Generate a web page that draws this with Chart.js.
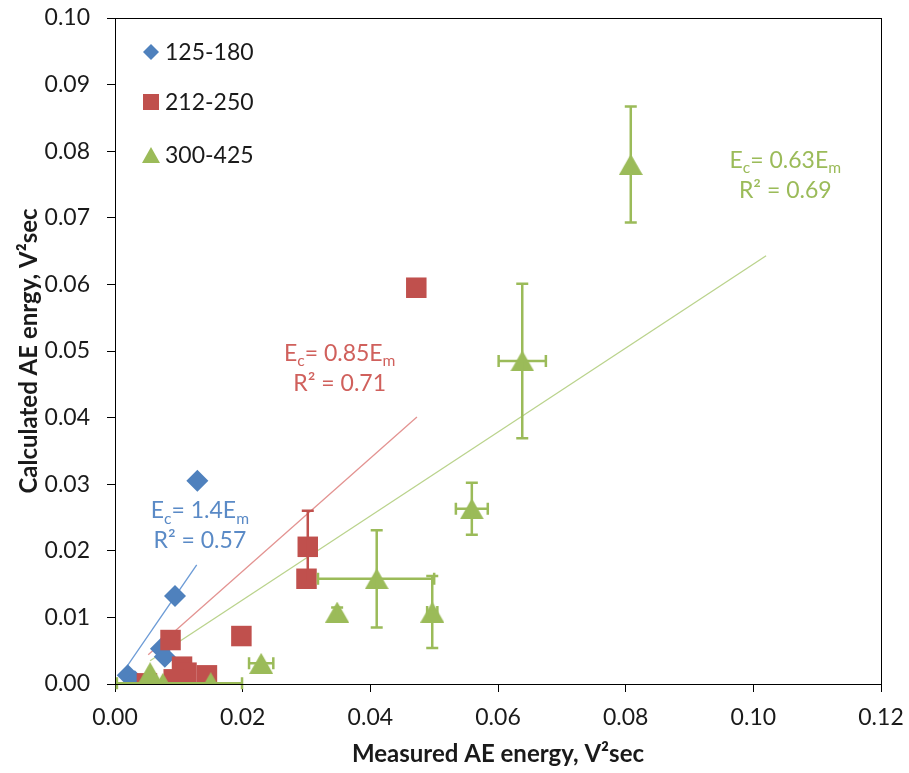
<!DOCTYPE html>
<html><head><meta charset="utf-8">
<script src="https://cdn.jsdelivr.net/npm/chart.js@4.4.0/dist/chart.umd.min.js"></script>
<style>html,body{margin:0;padding:0;background:#fff}#wrap{width:909px;height:773px;position:relative}</style>
</head><body><div id="wrap"><canvas id="c" width="909" height="773"></canvas></div>
<script>
// ---------- DATA ----------
const seriesNames = ['125-180', '212-250', '300-425'];
const xTickLabels = ['0.00', '0.02', '0.04', '0.06', '0.08', '0.10', '0.12'];
const yTickLabels = ['0.00', '0.01', '0.02', '0.03', '0.04', '0.05', '0.06', '0.07', '0.08', '0.09', '0.10'];
const xTitle = 'Measured AE energy, V\u00B2sec';
const yTitle = 'Calculated AE enrgy, V\u00B2sec';

// 125-180 (blue diamonds)
const blueX = [0.0129, 0.0094, 0.0072, 0.0078, 0.0020, 0.0031];
const blueY = [0.0305, 0.0132, 0.0053, 0.0041, 0.0013, 0.0004];
// 212-250 (red squares)
const redX = [0.0472, 0.0302, 0.0300, 0.0198, 0.0087, 0.0105, 0.0112, 0.0144, 0.0092, 0.0050];
const redY = [0.0595, 0.0206, 0.0158, 0.0072, 0.0066, 0.0026, 0.0017, 0.0013, 0.0007, 0.0001];
const redErrY = [0, 0.0054, 0, 0, 0, 0, 0, 0, 0, 0];
// 300-425 (green triangles)
const greenX = [0.0808, 0.0638, 0.0559, 0.0410, 0.0497, 0.0348, 0.0229, 0.0150, 0.0075, 0.0055];
const greenY = [0.0780, 0.0485, 0.0263, 0.0158, 0.0108, 0.0108, 0.0031, 0.0002, 0.0001, 0.0017];
const greenErrY = [0.0087, 0.0116, 0.0039, 0.0073, 0.0054, 0.0007, 0, 0, 0, 0];
const greenErrXMinus = [0, 0.0037, 0.0025, 0.0092, 0.0008, 0, 0.0019, 0, 0.0072, 0];
const greenErrXPlus = [0, 0.0037, 0.0025, 0.0090, 0.0008, 0, 0.0019, 0, 0.0124, 0];

// trend lines (end points)
const blueTrendX = [0.0012, 0.0128];
const blueTrendY = [0.0017, 0.0179];
const redTrendX = [0.0052, 0.0473];
const redTrendY = [0.0044, 0.0401];
const greenTrendX = [0.0055, 0.1020];
const greenTrendY = [0.0035, 0.0643];

// trend labels
const blueEq = [['E', 0], ['c', 1], ['= 1.4E', 0], ['m', 1]];
const blueR2 = 'R\u00B2 = 0.57';
const redEq = [['E', 0], ['c', 1], ['= 0.85E', 0], ['m', 1]];
const redR2 = 'R\u00B2 = 0.71';
const greenEq = [['E', 0], ['c', 1], ['= 0.63E', 0], ['m', 1]];
const greenR2 = 'R\u00B2 = 0.69';

// ---------- STYLE ----------
const FONT = 'Lato';
const FS = 23;
const C_BLUE = '#4F81BD', C_RED = '#C0504D', C_GREEN = '#9BBB59';
const TXT = '#1a1a1a';

const pts = (xs, ys) => xs.map((x, i) => ({ x: x, y: ys[i] }));

// triangle marker centred on its bounding box (like the original)
function triImage(w, h, color) {
  const cv = document.createElement('canvas');
  cv.width = w; cv.height = h;
  const c = cv.getContext('2d');
  c.fillStyle = color;
  c.beginPath();
  c.moveTo(w / 2, 0); c.lineTo(w, h); c.lineTo(0, h); c.closePath();
  c.fill();
  return cv;
}
const triMarker = triImage(24, 21, C_GREEN);

const errorBars = [
  { ds: 4, color: C_RED, errY: redErrY },
  { ds: 5, color: C_GREEN, errY: greenErrY, errXm: greenErrXMinus, errXp: greenErrXPlus }
];

const errPlugin = {
  id: 'errbars',
  afterDatasetsDraw(chart) {
    const ctx = chart.ctx, xs = chart.scales.x, ys = chart.scales.y;
    ctx.save();
    ctx.lineWidth = 2.5;
    const cap = 6;
    errorBars.forEach(eb => {
      const data = chart.data.datasets[eb.ds].data;
      ctx.strokeStyle = eb.color;
      data.forEach((p, i) => {
        const px = xs.getPixelForValue(p.x), py = ys.getPixelForValue(p.y);
        const e = eb.errY ? eb.errY[i] : 0;
        if (e > 0) {
          const y1 = ys.getPixelForValue(p.y + e), y2 = ys.getPixelForValue(Math.max(0, p.y - e));
          ctx.beginPath();
          ctx.moveTo(px, y1); ctx.lineTo(px, y2);
          ctx.moveTo(px - cap, y1); ctx.lineTo(px + cap, y1);
          if (p.y - e > 0) { ctx.moveTo(px - cap, y2); ctx.lineTo(px + cap, y2); }
          ctx.stroke();
        }
        const m = eb.errXm ? eb.errXm[i] : 0, q = eb.errXp ? eb.errXp[i] : 0;
        if (m > 0 || q > 0) {
          const x1 = xs.getPixelForValue(Math.max(0, p.x - m)), x2 = xs.getPixelForValue(p.x + q);
          ctx.beginPath();
          ctx.moveTo(x1, py); ctx.lineTo(x2, py);
          if (p.x - m > 0) { ctx.moveTo(x1, py - cap); ctx.lineTo(x1, py + cap); }
          ctx.moveTo(x2, py - cap); ctx.lineTo(x2, py + cap);
          ctx.stroke();
        }
      });
    });
    ctx.restore();
  }
};

function drawRich(ctx, parts, cx, cy, color, size) {
  const subSize = size * 0.68;
  const widths = parts.map(p => { ctx.font = (p[1] ? subSize : size) + 'px ' + FONT; return ctx.measureText(p[0]).width; });
  const total = widths.reduce((a, b) => a + b, 0);
  let x = cx - total / 2;
  const base = cy + size * 0.36;
  ctx.fillStyle = color;
  ctx.textBaseline = 'alphabetic';
  ctx.textAlign = 'left';
  parts.forEach((p, i) => {
    ctx.font = (p[1] ? subSize : size) + 'px ' + FONT;
    ctx.fillText(p[0], x, p[1] ? base + size * 0.22 : base);
    x += widths[i];
  });
}

const annotations = [
  { eq: blueEq, r2: blueR2, color: '#5A8AC6', x: 0.0133, y: 0.0261 },
  { eq: redEq, r2: redR2, color: '#D0605C', x: 0.0352, y: 0.0497 },
  { eq: greenEq, r2: greenR2, color: '#9BBB59', x: 0.1050, y: 0.0787 }
];

const annoPlugin = {
  id: 'anno',
  afterDatasetsDraw(chart) {
    const ctx = chart.ctx, xs = chart.scales.x, ys = chart.scales.y;
    ctx.save();
    annotations.forEach(a => {
      const cx = xs.getPixelForValue(a.x), cy = ys.getPixelForValue(a.y);
      drawRich(ctx, a.eq, cx, cy, a.color, FS);
      drawRich(ctx, [[a.r2, 0]], cx, cy + 30, a.color, FS);
    });
    ctx.restore();
  }
};

function drawMarker(ctx, style, x, y, color) {
  ctx.fillStyle = color;
  ctx.beginPath();
  if (style === 'rectRot') {
    const r = 8;
    ctx.moveTo(x - r, y); ctx.lineTo(x, y - r); ctx.lineTo(x + r, y); ctx.lineTo(x, y + r);
  } else if (style === 'rect') {
    ctx.rect(x - 8, y - 8, 16, 16);
  } else {
    ctx.moveTo(x, y - 8); ctx.lineTo(x + 9, y + 8); ctx.lineTo(x - 9, y + 8);
  }
  ctx.closePath();
  ctx.fill();
}

const legendPlugin = {
  id: 'customLegend',
  afterDraw(chart) {
    const ctx = chart.ctx, a = chart.chartArea;
    const styles = ['rectRot', 'rect', 'triangle'];
    const colors = [C_BLUE, C_RED, C_GREEN];
    const offs = [34, 84, 137];
    ctx.save();
    seriesNames.forEach((n, i) => {
      const y = a.top + offs[i];
      drawMarker(ctx, styles[i], a.left + 36, y, colors[i]);
      ctx.fillStyle = TXT;
      ctx.font = FS + 'px ' + FONT;
      ctx.textBaseline = 'middle';
      ctx.textAlign = 'left';
      ctx.fillText(n, a.left + 50, y + 1);
    });
    ctx.restore();
  }
};

const framePlugin = {
  id: 'frame',
  afterDraw(chart) {
    const ctx = chart.ctx, a = chart.chartArea;
    ctx.save();
    ctx.strokeStyle = '#000';
    ctx.lineWidth = 1;
    ctx.strokeRect(Math.round(a.left) + 0.5, Math.round(a.top) + 0.5, Math.round(a.right - a.left), Math.round(a.bottom - a.top));
    ctx.restore();
  }
};

const trendDs = (xs, ys, color) => ({
  data: pts(xs, ys), showLine: true, borderColor: color, borderWidth: 1.3,
  pointRadius: 0, pointHoverRadius: 0, fill: false, order: 10
});

new Chart(document.getElementById('c'), {
  type: 'scatter',
  data: {
    datasets: [
      trendDs(blueTrendX, blueTrendY, '#6C9BD6'),
      trendDs(redTrendX, redTrendY, '#E39391'),
      trendDs(greenTrendX, greenTrendY, '#BAD38C'),
      { label: seriesNames[0], data: pts(blueX, blueY), pointStyle: 'rectRot', pointRadius: 11, backgroundColor: C_BLUE, borderColor: C_BLUE, borderWidth: 0, order: 3 },
      { label: seriesNames[1], data: pts(redX, redY), pointStyle: 'rect', pointRadius: 14.5, backgroundColor: C_RED, borderColor: C_RED, borderWidth: 0, order: 2 },
      { label: seriesNames[2], data: pts(greenX, greenY), pointStyle: triMarker, pointRadius: 12, backgroundColor: C_GREEN, borderColor: C_GREEN, borderWidth: 0, order: 1 }
    ]
  },
  options: {
    responsive: false,
    animation: false,
    events: [],
    layout: { padding: { left: 0, top: 18, right: 28, bottom: 0 } },
    plugins: { legend: { display: false }, tooltip: { enabled: false } },
    scales: {
      x: {
        type: 'linear', min: 0, max: 0.12,
        afterFit(s) { s.height = 89; s.paddingLeft = 0; s.paddingRight = 0; },
        grid: { drawOnChartArea: false, drawTicks: true, tickLength: 8, color: '#000', tickColor: '#000' },
        border: { display: true, color: '#000', width: 1 },
        ticks: { stepSize: 0.02, padding: 12, color: TXT, font: { family: FONT, size: FS }, maxRotation: 0,
          callback: (v, i) => xTickLabels[i] },
        title: { display: true, text: xTitle, color: TXT, font: { family: FONT, size: 24, weight: 'bold' }, padding: { top: 4, bottom: 4 } }
      },
      y: {
        type: 'linear', min: 0, max: 0.1,
        afterFit(s) { s.width = 115; s.paddingTop = 0; s.paddingBottom = 0; },
        grid: { drawOnChartArea: false, drawTicks: true, tickLength: 8, color: '#000', tickColor: '#000' },
        border: { display: true, color: '#000', width: 1 },
        ticks: { stepSize: 0.01, padding: 17, color: TXT, font: { family: FONT, size: FS },
          callback: (v, i) => yTickLabels[i] },
        title: { display: true, text: yTitle, color: TXT, font: { family: FONT, size: 24, weight: 'bold' }, padding: { top: 15, bottom: 15 } }
      }
    }
  },
  plugins: [errPlugin, annoPlugin, legendPlugin, framePlugin]
});
</script>
</body></html>
